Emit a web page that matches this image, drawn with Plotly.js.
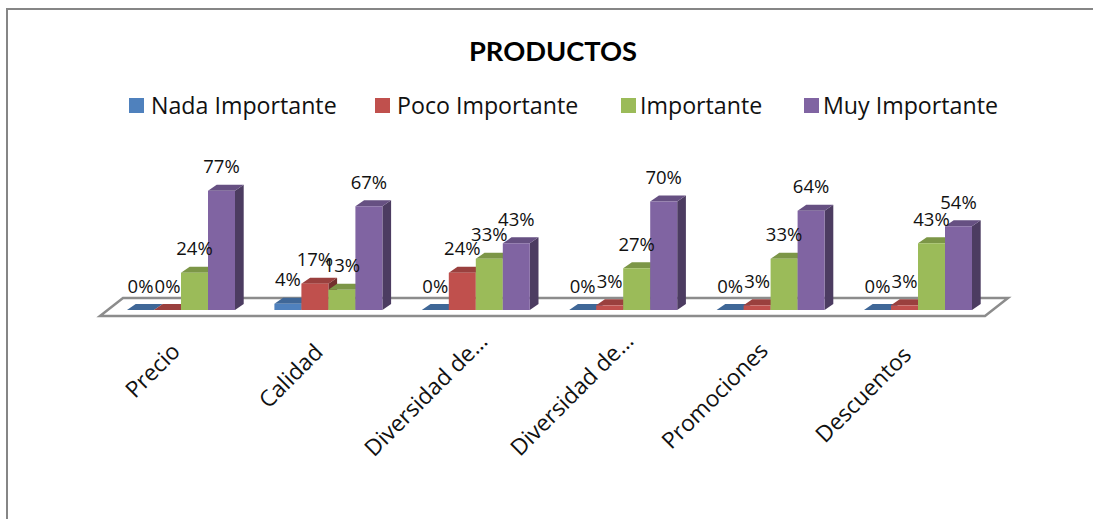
<!DOCTYPE html>
<html>
<head>
<meta charset="utf-8">
<script src="https://cdn.plot.ly/plotly-3.0.1.min.js"></script>
<style>html,body{margin:0;padding:0;background:#fff}#chart{width:1093px;height:519px}</style>
</head>
<body>
<div id="chart"></div>
<script>
// Survey results by product attribute, in percent
const categories = ['Precio', 'Calidad', 'Diversidad de…', 'Diversidad de…', 'Promociones', 'Descuentos'];
const nadaImportante = [0, 4, 0, 0, 0, 0];
const pocoImportante = [0, 17, 24, 3, 3, 3];
const importante = [24, 13, 33, 27, 33, 43];
const muyImportante = [77, 67, 43, 70, 64, 54];
const seriesNames = ['Nada Importante', 'Poco Importante', 'Importante', 'Muy Importante'];
const seriesValues = [nadaImportante, pocoImportante, importante, muyImportante];
const frontColors = ['#4F81BD', '#C0504D', '#9BBB59', '#8064A2'];
const topColors = ['#3F6797', '#9A403E', '#7C9647', '#665082'];
const sideColors = ['#2F4D71', '#73302E', '#5D7035', '#4C3C61'];

// Scale of the plot, px per unit on each axis
const pxPerCat = 147.4, pxPerPct = 1.55;
const W = 1093, H = 519;
const plot = {l: 90, r: 1020, t: 150, b: 318};
const zeroY = 310, firstCenter = 181;
const xRange = [(plot.l - firstCenter) / pxPerCat, (plot.r - firstCenter) / pxPerCat];
const yRange = [(zeroY - plot.b) / pxPerPct, (zeroY - plot.t) / pxPerPct];

// Oblique offset of the bars' depth and their width, in axis units
const barW = 27 / pxPerCat;
const depthX = 8.7 / pxPerCat, depthY = 6 / pxPerPct;
const labelLift = 22 / pxPerPct;

const traces = [];

// Top and right faces go on the lower subplot so every front face covers them
seriesValues.forEach((vals, k) => {
  const xs = [], ys = [], xt = [], yt = [];
  vals.forEach((v, i) => {
    const x0 = i + (k - 2) * barW, x1 = x0 + barW;
    xs.push(x1, x1 + depthX, x1 + depthX, x1, x1, null);
    ys.push(0, depthY, v + depthY, v, 0, null);
    xt.push(x0, x1, x1 + depthX, x0 + depthX, x0, null);
    yt.push(v, v, v + depthY, v + depthY, v, null);
  });
  traces.push({type: 'scatter', mode: 'lines', x: xs, y: ys, fill: 'toself', fillcolor: sideColors[k],
    line: {width: 0, color: sideColors[k]}, hoverinfo: 'skip', showlegend: false});
  traces.push({type: 'scatter', mode: 'lines', x: xt, y: yt, fill: 'toself', fillcolor: topColors[k],
    line: {width: 0, color: topColors[k]}, hoverinfo: 'skip', showlegend: false});
});

// Front faces
const idx = categories.map((_, i) => i);
seriesValues.forEach((vals, k) => {
  traces.push({type: 'bar', name: seriesNames[k], x: idx, y: vals, yaxis: 'y2',
    marker: {color: frontColors[k], line: {width: 0}}, showlegend: false});
});

// Value labels above each bar
seriesValues.forEach((vals, k) => {
  traces.push({type: 'scatter', mode: 'text', yaxis: 'y2', showlegend: false, hoverinfo: 'skip', cliponaxis: false,
    x: idx.map(i => i + (k - 1.5) * barW),
    y: vals.map(v => v + labelLift),
    text: vals.map(v => v + '%'),
    textposition: 'middle center',
    textfont: {family: 'Open Sans, sans-serif', size: 18.5, color: '#111'}});
});

// Floor plane, border and hand-spaced legend row (paper units are relative to the plot box)
const px = x => (x - plot.l) / (plot.r - plot.l), py = y => (plot.b - y) / (plot.b - plot.t);
const floorLeft = (100 - firstCenter) / pxPerCat, floorRight = (985 - firstCenter) / pxPerCat;
const floorFront = (zeroY - 316) / pxPerPct, floorBack = (zeroY - 298) / pxPerPct;
const floorSkew = 23 / pxPerCat;
const shapes = [
  {type: 'path', layer: 'below', xref: 'x', yref: 'y',
   path: `M${floorLeft},${floorFront} L${floorRight},${floorFront} L${floorRight + floorSkew},${floorBack} L${floorLeft + floorSkew},${floorBack} Z`,
   fillcolor: '#fff', line: {color: '#8C8C8C', width: 2.5}},
  {type: 'line', xref: 'paper', yref: 'paper', x0: px(7), x1: px(7), y0: py(H), y1: py(9), line: {color: '#868686', width: 2}},
  {type: 'line', xref: 'paper', yref: 'paper', x0: px(6), x1: px(W), y0: py(9), y1: py(9), line: {color: '#868686', width: 2}}
];
const legendSwatch = [129, 375, 621, 804];
const legendText = [151, 397, 640, 823];
const annotations = [];
seriesNames.forEach((name, k) => {
  shapes.push({type: 'rect', xref: 'paper', yref: 'paper', x0: px(legendSwatch[k]), x1: px(legendSwatch[k] + 15),
    y0: py(113), y1: py(98), fillcolor: frontColors[k], line: {width: 0}});
  annotations.push({xref: 'paper', yref: 'paper', x: px(legendText[k]), y: py(105), xanchor: 'left', yanchor: 'middle',
    showarrow: false, text: name, borderpad: 0, borderwidth: 0,
    font: {family: 'Open Sans, sans-serif', size: 23.2, color: '#111'}});
});

// Slanted category labels, each centred on its own spot below the floor
const catLabelX = [151.5, 290.5, 425, 571.5, 714, 862.5];
const catLabelY = [370, 375.5, 394, 393.5, 395.5, 394.5];
categories.forEach((name, i) => {
  annotations.push({xref: 'paper', yref: 'paper', x: px(catLabelX[i]), y: py(catLabelY[i]), xanchor: 'center', yanchor: 'middle',
    showarrow: false, text: name, textangle: -45, borderpad: 0, borderwidth: 0,
    font: {family: 'Open Sans, sans-serif', size: 22.7, color: '#111'}});
});

const layout = {
  width: W, height: H, autosize: false,
  paper_bgcolor: '#fff', plot_bgcolor: 'rgba(0,0,0,0)',
  margin: {l: plot.l, r: W - plot.r, t: plot.t, b: H - plot.b, pad: 0},
  title: {text: '<b>PRODUCTOS</b>', x: 553 / W, xanchor: 'center', y: 1 - 51 / H, yanchor: 'middle',
    font: {family: 'Lato, sans-serif', size: 27.3, color: '#000'}},
  barmode: 'group', bargap: 1 - 4 * barW, bargroupgap: 0,
  showlegend: false,
  xaxis: {range: xRange, tickmode: 'array', tickvals: idx, ticktext: categories, showticklabels: false,
    ticklen: 0, showgrid: false, zeroline: false, showline: false},
  yaxis: {range: yRange, visible: false, fixedrange: true},
  yaxis2: {range: yRange, visible: false, overlaying: 'y', fixedrange: true},
  shapes: shapes, annotations: annotations
};

Plotly.newPlot('chart', traces, layout, {displayModeBar: false, staticPlot: true});
</script>
</body>
</html>
